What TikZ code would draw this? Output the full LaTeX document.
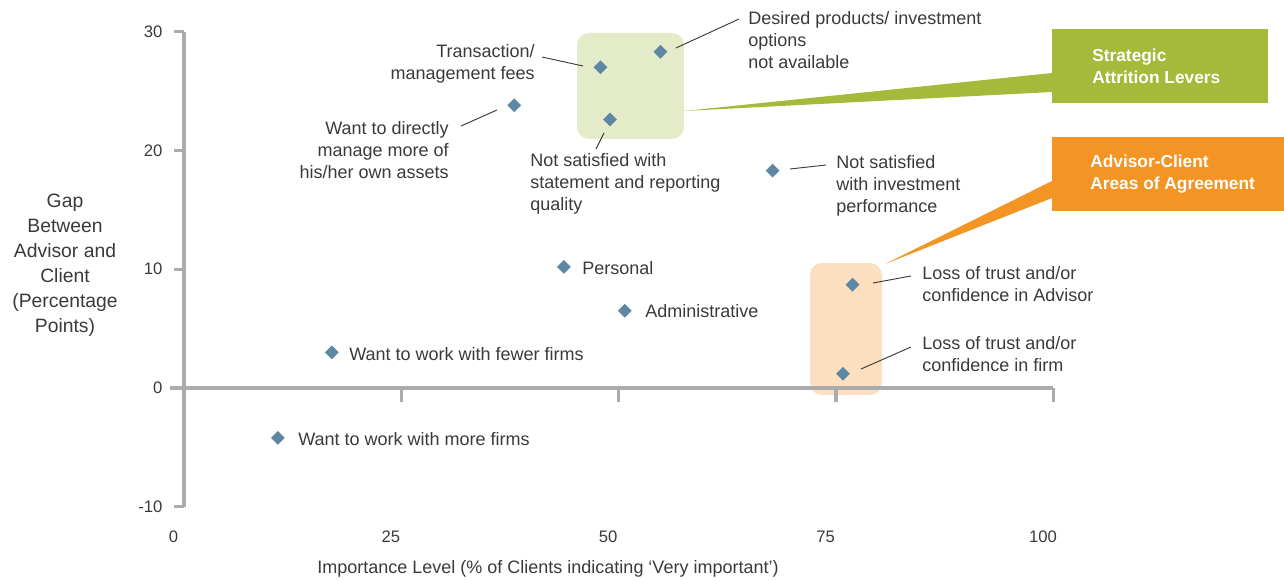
\documentclass[tikz,border=0pt]{standalone}
\usepackage{fontspec}
\setmainfont{Liberation Sans}
\usepackage{xcolor}
\usetikzlibrary{shapes.geometric}
\definecolor{axisgray}{HTML}{ABABAD}
\definecolor{dotblue}{HTML}{5D87A3}
\definecolor{txtgray}{HTML}{3A3A3A}
\definecolor{levergreen}{HTML}{A5B93B}
\definecolor{palegreen}{HTML}{E4EBC8}
\definecolor{agreeorange}{HTML}{F39425}
\definecolor{paleorange}{HTML}{FCDFBE}

\begin{document}
\begin{tikzpicture}[x=0.75pt, y=-0.75pt,
    dot/.style={diamond, fill=dotblue, inner sep=0pt, minimum width=10.5pt, minimum height=10.5pt},
    lbl/.style={inner sep=0pt, text=txtgray, font=\fontsize{13.5}{16.5}\selectfont},
    ticklbl/.style={inner sep=0pt, text=txtgray, font=\fontsize{12.5}{15}\selectfont},
    axis/.style={draw=axisgray, line width=2.4pt},
    leader/.style={draw=txtgray, line width=0.7pt},
    boxtxt/.style={inner sep=0pt, text=white, align=left, font=\bfseries\fontsize{13}{16.5}\selectfont}]
\useasboundingbox (0,0) rectangle (1284,581);

% Highlighted groups
\fill[palegreen, rounded corners=9pt] (577,33) rectangle (684,139);
\fill[paleorange, rounded corners=9pt] (810,263) rectangle (882,395);

% Data frame
\begin{scope}[shift={(184,388)}, x=6.52pt, y=8.91pt]
  \draw[axis] (0,30) -- (0,-10);
  \draw[axis] (-1.6,0) -- (100,0);
  \foreach \y in {30,20,10,-10}
    \draw[axis] (0,\y) -- ++(-7.5pt,0pt);
  \foreach \y in {30,20,10,0,-10}
    \node[ticklbl, anchor=east] (yt\y) at ([xshift=-16pt]0,\y) {\y};
  \foreach \x in {25,50,75,100}
    \draw[axis] (\x,0) -- ++(0pt,-10.5pt);
  \foreach \x in {0,25,50,75,100}
    \node[ticklbl] (xt\x) at (\x-1.2,-12.54) {\x};

  % Points
  \node[dot] (fees) at (47.9,27.0) {};
  \node[dot] (desired) at (54.8,28.3) {};
  \node[dot] (statement) at (49.0,22.6) {};
  \node[dot] (manage) at (38.0,23.8) {};
  \node[dot] (perf) at (67.7,18.3) {};
  \node[dot] (personal) at (43.7,10.2) {};
  \node[dot] (admin) at (50.7,6.5) {};
  \node[dot] (advisor) at (76.9,8.7) {};
  \node[dot] (firm) at (75.8,1.2) {};
  \node[dot] (fewer) at (17.0,3.0) {};
  \node[dot] (more) at (10.8,-4.2) {};
\end{scope}

% Axis titles
\node[lbl, align=center, font=\fontsize{14.5}{18.75}\selectfont] (yTitle) at (65,265)
  {Gap\\Between\\Advisor and\\Client\\(Percentage\\Points)};
\node[lbl, font=\fontsize{13.5}{15}\selectfont] (xTitle) at (548,569)
  {Importance Level (\% of Clients indicating ‘Very important’)};

% Point labels
\node[lbl, anchor=east, align=right] (feesLbl) at (535,64) {Transaction/\\management fees};
\node[lbl, anchor=west, align=left] (desiredLbl) at (748,40) {Desired products/ investment\\options\\not available};
\node[lbl, anchor=west, align=left] (statementLbl) at (530,184) {Not satisfied with\\statement and reporting\\quality};
\node[lbl, anchor=east, align=right] (manageLbl) at (449,150) {Want to directly\\manage more of\\his/her own assets};
\node[lbl, anchor=west, align=left] (perfLbl) at (836,186) {Not satisfied\\with investment\\performance};
\node[lbl, anchor=west] (personalLbl) at (582,268) {Personal};
\node[lbl, anchor=west] (adminLbl) at (645,311) {Administrative};
\node[lbl, anchor=west, align=left] (advisorLbl) at (922,284) {Loss of trust and/or\\confidence in Advisor};
\node[lbl, anchor=west, align=left] (firmLbl) at (922,354) {Loss of trust and/or\\confidence in firm};
\node[lbl, anchor=west] (fewerLbl) at (349,354) {Want to work with fewer firms};
\node[lbl, anchor=west] (moreLbl) at (298,439) {Want to work with more firms};

% Leader lines
\coordinate (feesA) at (542,57);   \coordinate (feesB) at (583,66);
\coordinate (desiredA) at (739,19); \coordinate (desiredB) at (676,48);
\coordinate (statementA) at (596,149); \coordinate (statementB) at (604,133);
\coordinate (manageA) at (461,126); \coordinate (manageB) at (497,110);
\coordinate (perfA) at (826,165);  \coordinate (perfB) at (790,169);
\coordinate (advisorA) at (911,276); \coordinate (advisorB) at (873,283);
\coordinate (firmA) at (911,347);  \coordinate (firmB) at (861,369);
\foreach \p in {fees,desired,statement,manage,perf,advisor,firm}
  \draw[leader] (\p A) -- (\p B);

% Callout boxes
\fill[levergreen] (684,111) -- (1052,73) -- (1052,92) -- cycle;
\fill[agreeorange] (885,264) -- (1052,181) -- (1052,198) -- cycle;
\node[fill=levergreen, anchor=north west, minimum width=162pt, minimum height=55.5pt, inner sep=0pt] (leversBox) at (1052,29) {};
\node[fill=agreeorange, anchor=north west, minimum width=180pt, minimum height=55.5pt, inner sep=0pt] (agreeBox) at (1052,137) {};
\node[boxtxt, anchor=west] (leversTxt) at (1092,66) {Strategic\\Attrition Levers};
\node[boxtxt, anchor=west] (agreeTxt) at (1090,174) {Advisor-Client\\Areas of Agreement};
\end{tikzpicture}
\end{document}
